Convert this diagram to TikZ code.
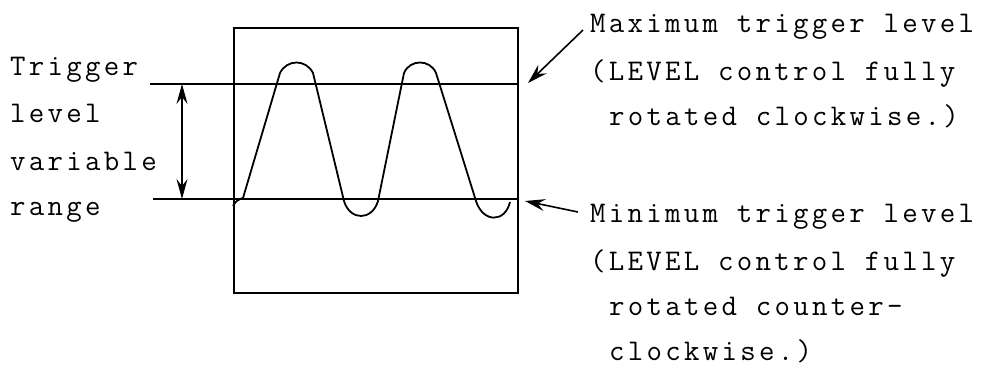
\documentclass[tikz,border=0pt]{standalone}
\usepackage{fontspec}
\setmonofont[LetterSpace=11]{Latin Modern Mono}
\usetikzlibrary{arrows.meta}
\begin{document}
\begin{tikzpicture}[x=1pt,y=-1pt,
  lbl/.style={anchor=base west,inner sep=0pt,
    font=\ttfamily\fontsize{30}{36}\selectfont},
  wave/.style={line width=1.8pt,line join=round},
  level/.style={line width=1.3pt},
  ptr/.style={line width=1.6pt,-{Stealth[length=20pt,width=12pt,inset=7pt]}},
  dim/.style={line width=1.3pt,{Stealth[length=20pt,width=11pt,inset=7pt]}-{Stealth[length=20pt,width=11pt,inset=7pt]}}]
\useasboundingbox (0,0) rectangle (998,372);
% screen
\node[draw,line width=1.8pt,minimum width=284pt,minimum height=265pt,inner sep=0pt,anchor=north west] (screen) at (233,27) {};
% level lines
\coordinate (maxL) at (150,84);
\coordinate (maxR) at (517,84);
\coordinate (minL) at (153,199);
\coordinate (minR) at (517,199);
\draw[level] (maxL) -- (maxR);
\draw[level] (minL) -- (minR);
% dimension arrow
\coordinate (dimT) at (182,84);
\coordinate (dimB) at (182,199);
\draw[dim] (dimT) -- (dimB);
% waveform
\coordinate (w0) at (233,206);
\draw[wave] (w0) .. controls (236,200) and (240,199) .. (243,198)
  -- (280,73) .. controls (287,59) and (306,59) .. (313,73)
  -- (344,201) .. controls (350,221) and (372,221) .. (378,201)
  -- (404,73) .. controls (410,59) and (430,59) .. (436,73)
  -- (476,201) .. controls (483,223) and (505,223) .. (510,202);
% left texts
\node[lbl] (l1) at (10,75) {Trigger};
\node[lbl] (l2) at (10,122) {level};
\node[lbl] (l3) at (10,170) {variable};
\node[lbl] (l4) at (10,215) {range};
% right texts
\node[lbl] (a1) at (590,32) {Maximum trigger level};
\node[lbl] (a2) at (590,80) {(LEVEL control fully};
\node[lbl] (a3) at (609,125) {rotated clockwise.)};
\node[lbl] (b1) at (590,222) {Minimum trigger level};
\node[lbl] (b2) at (590,270) {(LEVEL control fully};
\node[lbl] (b3) at (609,315) {rotated counter-};
\node[lbl] (b4) at (609,360) {clockwise.)};
% pointers
\coordinate (maxS) at (583,30);
\coordinate (maxE) at (528,83);
\coordinate (minS) at (578,212);
\coordinate (minE) at (525,201);
\draw[ptr] (maxS) -- (maxE);
\draw[ptr] (minS) -- (minE);
\end{tikzpicture}
\end{document}
